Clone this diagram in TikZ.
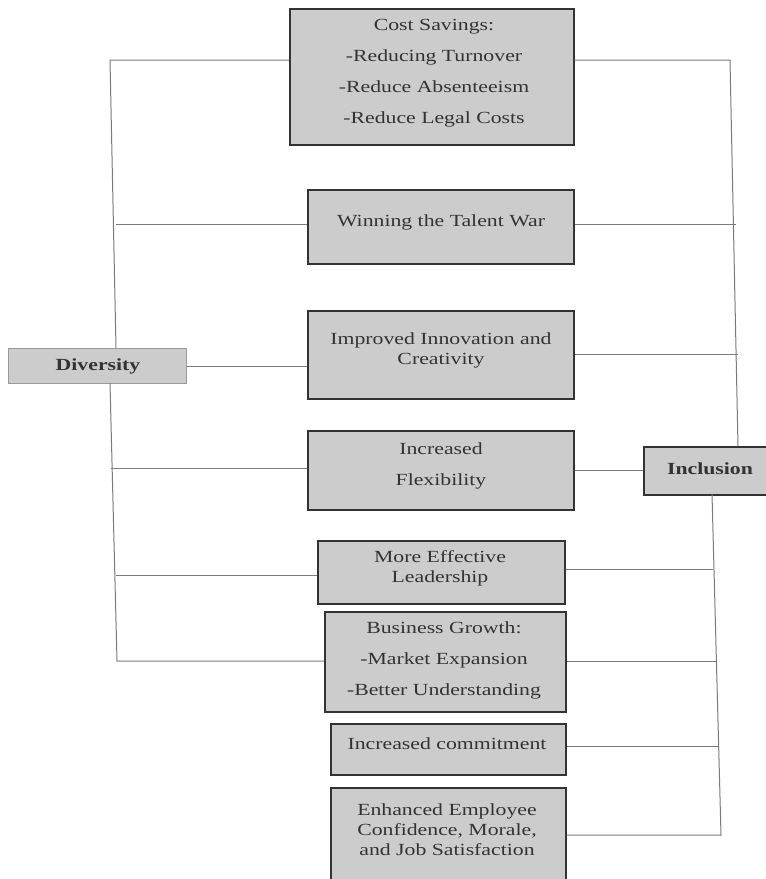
\documentclass[tikz,border=0pt]{standalone}
\usepackage{fontspec}
\setmainfont{Liberation Serif}[FakeStretch=1.28]
\definecolor{boxfill}{HTML}{CCCCCC}
\definecolor{boxline}{HTML}{333333}
\definecolor{divline}{HTML}{999999}
\definecolor{connline}{HTML}{7A7A7A}
\definecolor{txtcol}{HTML}{333333}
\tikzset{
  box/.style={draw=boxline, fill=boxfill, line width=1.7pt, anchor=north west, inner sep=0pt},
  conn/.style={draw=connline, line width=1pt},
  txt/.style={text=txtcol, align=center, inner sep=0pt, font=\fontsize{17}{20}\selectfont},
  wide/.style={font=\fontsize{17}{31}\selectfont},
  boldtxt/.style={text=txtcol, inner sep=0pt, font=\fontsize{17}{20}\selectfont\bfseries},
}
\begin{document}
\begin{tikzpicture}[x=1pt,y=-1pt]
\useasboundingbox (0,0) rectangle (766,879);
\clip (0,0) rectangle (766,879);
% boxes
\node[box, minimum width=284pt, minimum height=136pt] (cs) at (289,8) {};
\node[box, minimum width=266pt, minimum height=74pt] (win) at (307,189) {};
\node[box, minimum width=266pt, minimum height=88pt] (inn) at (307,310) {};
\node[box, minimum width=266pt, minimum height=79pt] (flex) at (307,430) {};
\node[box, minimum width=247pt, minimum height=63pt] (lead) at (317,540) {};
\node[box, minimum width=241pt, minimum height=100pt] (bus) at (324,611) {};
\node[box, minimum width=235pt, minimum height=51pt] (com) at (330,723) {};
\node[box, minimum width=235pt, minimum height=110pt] (enh) at (330,787) {};
\node[box, draw=divline, line width=1.3pt, minimum width=178pt, minimum height=35pt] (div) at (8,348) {};
\node[box, minimum width=140pt, minimum height=48pt] (inc) at (643,446) {};
% texts
\node[txt, wide] (tcs) at (434,73) {Cost Savings:\\-Reducing Turnover\\-Reduce Absenteeism\\-Reduce Legal Costs};
\node[txt] (twin) at (441,222) {Winning the Talent War};
\node[txt] (tinn) at (441,350) {Improved Innovation and\\Creativity};
\node[txt, wide] (tflex) at (441,466) {Increased\\Flexibility};
\node[txt] (tlead) at (440,568) {More Effective\\Leadership};
\node[txt, wide] (tbus) at (444,660) {Business Growth:\\-Market Expansion\\-Better Understanding};
\node[txt] (tcom) at (447,744) {Increased commitment};
\node[txt] (tenh) at (447,830) {Enhanced Employee\\Confidence, Morale,\\and Job Satisfaction};
\node[boldtxt] (tdiv) at (98,366) {Diversity};
\node[boldtxt] (tinc) at (710,469) {Inclusion};
% left trunk
\coordinate (L1) at (110,60);
\coordinate (L2) at (116,348);
\coordinate (L3) at (110,383);
\coordinate (L4) at (117,661);
\coordinate (Lw) at (116,224);
\coordinate (Lf) at (111,468);
\coordinate (Ll) at (116,575);
\draw[conn] (cs.west |- L1) -- (L1) -- (L2);
\draw[conn] (L3) -- (L4) -- (bus.west |- L4);
\draw[conn] (Lw) -- (win.west |- Lw);
\draw[conn] (div.east) -- (inn.west |- div.east);
\draw[conn] (Lf) -- (flex.west |- Lf);
\draw[conn] (Ll) -- (lead.west |- Ll);
% right trunk
\coordinate (R1) at (730,60);
\coordinate (R2) at (738,446);
\coordinate (Rw) at (736,224);
\coordinate (Ri) at (738,354);
\coordinate (R3) at (712,494);
\coordinate (R4) at (721,835);
\coordinate (Rl) at (713,569);
\coordinate (Rb) at (717,661);
\coordinate (Rc) at (718,746);
\draw[conn] (cs.east |- R1) -- (R1) -- (R2);
\draw[conn] (win.east |- Rw) -- (Rw);
\draw[conn] (inn.east |- Ri) -- (Ri);
\draw[conn] (flex.east |- inc.west) -- (inc.west);
\draw[conn] (R3) -- (R4) -- (enh.east |- R4);
\draw[conn] (lead.east |- Rl) -- (Rl);
\draw[conn] (bus.east |- Rb) -- (Rb);
\draw[conn] (com.east |- Rc) -- (Rc);
\end{tikzpicture}
\end{document}
